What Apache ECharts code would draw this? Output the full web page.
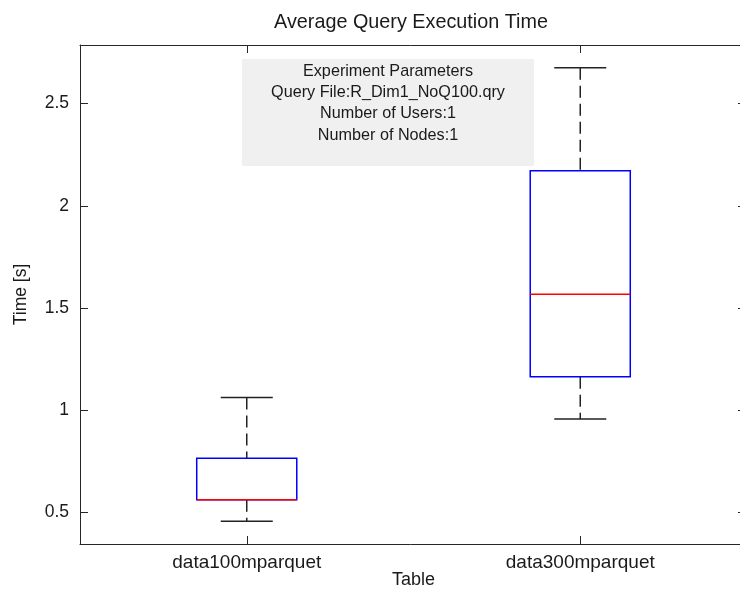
<!DOCTYPE html>
<html>
<head>
<meta charset="utf-8">
<title>Average Query Execution Time</title>
<script src="https://cdn.jsdelivr.net/npm/echarts@6/dist/echarts.min.js"></script>
<style>
  html, body { margin: 0; padding: 0; background: #ffffff; }
  #chart { width: 740px; height: 590px; }
</style>
</head>
<body>
<div id="chart"></div>
<script>
// Query timings per table: box-and-whisker summary (seconds)
const categories   = ['data100mparquet', 'data300mparquet'];
const whiskerLow   = [0.457, 0.958];
const quartile1    = [0.563, 1.164];
const medians      = [0.563, 1.568];
const quartile3    = [0.766, 2.172];
const whiskerHigh  = [1.063, 2.676];

// Text of the parameters note
const noteLines = [
  'Experiment Parameters',
  'Query File:R_Dim1_NoQ100.qry',
  'Number of Users:1',
  'Number of Nodes:1'
];

const FONT = '"Liberation Sans", Arial, Helvetica, sans-serif';
const INK = '#1a1a1a';
const AXIS = '#262626';

// Y range: data extent padded by 5% each side
const lo = Math.min(...whiskerLow);
const hi = Math.max(...whiskerHigh);
const pad = (hi - lo) * 0.05;
const yMin = lo - pad;
const yMax = hi + pad;

const seriesData = categories.map((c, i) => [
  i, whiskerLow[i], quartile1[i], medians[i], quartile3[i], whiskerHigh[i]
]);

function renderBox(params, api) {
  const idx = api.value(0);
  const pLow = api.coord([idx, api.value(1)]);
  const pQ1 = api.coord([idx, api.value(2)]);
  const pMed = api.coord([idx, api.value(3)]);
  const pQ3 = api.coord([idx, api.value(4)]);
  const pHigh = api.coord([idx, api.value(5)]);
  const band = api.size([1, 0])[0];
  const cx = pQ1[0];
  const boxHalf = band * 0.15;
  const capHalf = band * 0.078;
  const whiskerStyle = { stroke: '#222222', lineWidth: 1.5, lineDash: [12, 6], fill: null };
  const capStyle = { stroke: '#222222', lineWidth: 1.5, fill: null };
  return {
    type: 'group',
    children: [
      { type: 'line', shape: { x1: cx, y1: pHigh[1], x2: cx, y2: pQ3[1] }, style: whiskerStyle },
      { type: 'line', shape: { x1: cx, y1: pQ1[1], x2: cx, y2: pLow[1] }, style: whiskerStyle },
      { type: 'line', shape: { x1: cx - capHalf, y1: pHigh[1], x2: cx + capHalf, y2: pHigh[1] }, style: capStyle },
      { type: 'line', shape: { x1: cx - capHalf, y1: pLow[1], x2: cx + capHalf, y2: pLow[1] }, style: capStyle },
      { type: 'rect', shape: { x: cx - boxHalf, y: pQ3[1], width: boxHalf * 2, height: pQ1[1] - pQ3[1] },
        style: { fill: null, stroke: '#0000ff', lineWidth: 1.5 } },
      { type: 'line', shape: { x1: cx - boxHalf, y1: pMed[1], x2: cx + boxHalf, y2: pMed[1] },
        style: { stroke: '#ff0000', lineWidth: 1.5, fill: null } }
    ]
  };
}

const tickLabelFmt = v => {
  const k = v / 0.5;
  return Math.abs(k - Math.round(k)) < 1e-6 ? String(+v.toFixed(2)) : '';
};

const chart = echarts.init(document.getElementById('chart'), null, { renderer: 'canvas' });

chart.setOption({
  animation: false,
  backgroundColor: '#ffffff',
  textStyle: { fontFamily: FONT },
  title: {
    text: 'Average Query Execution Time',
    left: 406,
    top: 8,
    textAlign: 'center',
    textStyle: { fontSize: 19.8, fontWeight: 'normal', color: INK, fontFamily: FONT }
  },
  grid: { left: 80, top: 45, width: 667, height: 499, outerBoundsMode: 'none', containLabel: false },
  xAxis: [
    {
      type: 'category',
      data: categories,
      position: 'bottom',
      boundaryGap: true,
      axisLine: { show: true, lineStyle: { color: AXIS, width: 1 } },
      axisTick: { show: true, inside: true, length: 8, alignWithLabel: true, lineStyle: { color: AXIS } },
      axisLabel: { fontSize: 19, color: INK, margin: 9, fontFamily: FONT },
      splitLine: { show: false },
      name: 'Table',
      nameLocation: 'middle',
      nameMoveOverlap: false,
      nameGap: 27,
      nameTextStyle: { fontSize: 18, color: INK, fontFamily: FONT }
    },
    {
      type: 'category',
      data: categories,
      position: 'top',
      boundaryGap: true,
      axisLine: { show: true, lineStyle: { color: AXIS, width: 1 } },
      axisTick: { show: true, inside: true, length: 8, alignWithLabel: true, lineStyle: { color: AXIS } },
      axisLabel: { show: false },
      splitLine: { show: false }
    }
  ],
  yAxis: [
    {
      type: 'value',
      min: yMin,
      max: yMax,
      splitNumber: 5,
      position: 'left',
      axisLine: { show: true, lineStyle: { color: AXIS, width: 1 } },
      axisTick: { show: true, inside: true, length: 8, lineStyle: { color: AXIS } },
      axisLabel: { fontSize: 17.5, color: INK, margin: 11, fontFamily: FONT, formatter: tickLabelFmt },
      splitLine: { show: false },
      name: 'Time [s]',
      nameLocation: 'middle',
      nameRotate: 90,
      nameMoveOverlap: false,
      nameGap: 50,
      nameTextStyle: { fontSize: 17.5, color: INK, fontFamily: FONT }
    },
    {
      type: 'value',
      min: yMin,
      max: yMax,
      splitNumber: 5,
      position: 'right',
      axisLine: { show: true, lineStyle: { color: AXIS, width: 1 } },
      axisTick: { show: true, inside: true, length: 9, lineStyle: { color: AXIS } },
      axisLabel: { show: false },
      splitLine: { show: false }
    }
  ],
  graphic: [
    {
      type: 'group',
      z: 50,
      children: [
        { type: 'rect', shape: { x: 242, y: 59, width: 292, height: 107 }, style: { fill: '#f0f0f0' } },
        {
          type: 'text',
          style: {
            text: noteLines.join('\n'),
            x: 388,
            y: 60.5,
            align: 'center',
            verticalAlign: 'top',
            lineHeight: 21.3,
            fontSize: 16.2,
            fontFamily: FONT,
            fill: INK
          }
        }
      ]
    }
  ],
  series: [
    {
      type: 'custom',
      xAxisIndex: 0,
      yAxisIndex: 0,
      renderItem: renderBox,
      encode: { x: 0, y: [1, 2, 3, 4, 5] },
      data: seriesData,
      clip: false,
      z: 10
    }
  ]
});
</script>
</body>
</html>
